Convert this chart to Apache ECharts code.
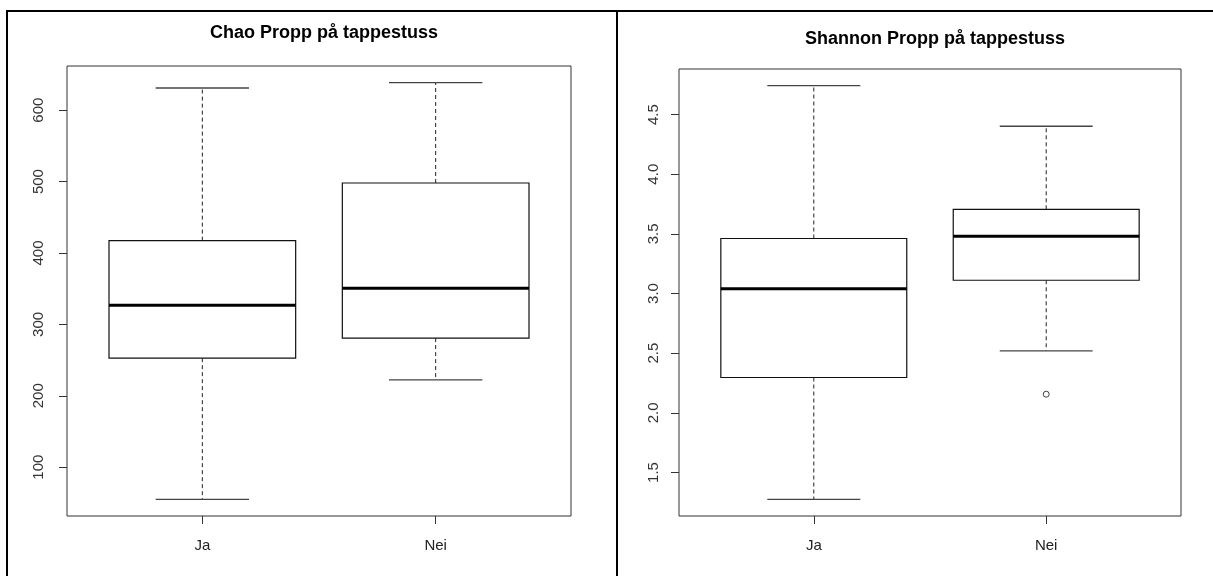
<!DOCTYPE html>
<html>
<head>
<meta charset="utf-8">
<script src="https://cdn.jsdelivr.net/npm/echarts@6/dist/echarts.min.js"></script>
<style>
  html, body { margin: 0; padding: 0; background: #fff; }
  #chart { width: 1213px; height: 576px; }
</style>
</head>
<body>
<div id="chart"></div>
<script>
// ---- data ----
const categories = ['Ja', 'Nei'];
// [lower whisker, Q1, median, Q3, upper whisker]
const chaoJa = [55, 252.7, 326.7, 417.3, 631];
const chaoNei = [222.2, 280.8, 350.6, 498, 638.5];
const shannonJa = [1.274, 2.296, 3.039, 3.461, 4.743];
const shannonNei = [2.519, 3.111, 3.48, 3.706, 4.402];
// outliers: [category index (1-based), value]
const chaoOutliers = [];
const shannonOutliers = [[2, 2.156]];
const chaoTicks = [100, 200, 300, 400, 500, 600];
const shannonTicks = [1.5, 2.0, 2.5, 3.0, 3.5, 4.0, 4.5];
const titles = ['Chao Propp på tappestuss', 'Shannon Propp på tappestuss'];

// ---- helpers ----
function rRange(stats, outs) {
  let lo = Infinity, hi = -Infinity;
  stats.forEach(s => { lo = Math.min(lo, s[0]); hi = Math.max(hi, s[4]); });
  outs.forEach(o => { lo = Math.min(lo, o[1]); hi = Math.max(hi, o[1]); });
  const pad = (hi - lo) * 0.04;
  return [lo - pad, hi + pad];
}
const BOX_HALF = 0.4, CAP_HALF = 0.2;
const FONT = '"Liberation Sans", Arial, sans-serif';

function renderBox(params, api) {
  const x = api.value(0);
  const lo = api.value(1), q1 = api.value(2), med = api.value(3), q3 = api.value(4), hi = api.value(5);
  const tl = api.coord([x - BOX_HALF, q3]);
  const br = api.coord([x + BOX_HALF, q1]);
  const mL = api.coord([x - BOX_HALF, med]);
  const mR = api.coord([x + BOX_HALF, med]);
  const pHi = api.coord([x, hi]);
  const pLo = api.coord([x, lo]);
  const pQ3 = api.coord([x, q3]);
  const pQ1 = api.coord([x, q1]);
  const cHiL = api.coord([x - CAP_HALF, hi]), cHiR = api.coord([x + CAP_HALF, hi]);
  const cLoL = api.coord([x - CAP_HALF, lo]), cLoR = api.coord([x + CAP_HALF, lo]);
  const dashStyle = { stroke: '#222', lineWidth: 1, lineDash: [4, 3], fill: null };
  const capStyle = { stroke: '#444', lineWidth: 1.3 };
  return {
    type: 'group',
    children: [
      { type: 'line', shape: { x1: pQ3[0], y1: pQ3[1], x2: pHi[0], y2: pHi[1] }, style: dashStyle },
      { type: 'line', shape: { x1: pQ1[0], y1: pQ1[1], x2: pLo[0], y2: pLo[1] }, style: dashStyle },
      { type: 'line', shape: { x1: cHiL[0], y1: cHiL[1], x2: cHiR[0], y2: cHiR[1] }, style: capStyle },
      { type: 'line', shape: { x1: cLoL[0], y1: cLoL[1], x2: cLoR[0], y2: cLoR[1] }, style: capStyle },
      { type: 'rect', shape: { x: tl[0], y: tl[1], width: br[0] - tl[0], height: br[1] - tl[1] }, style: { fill: '#fff', stroke: '#111', lineWidth: 1.2 } },
      { type: 'line', shape: { x1: mL[0], y1: mL[1], x2: mR[0], y2: mR[1] }, style: { stroke: '#000', lineWidth: 3 } }
    ]
  };
}

const chaoStats = [chaoJa, chaoNei];
const shannonStats = [shannonJa, shannonNei];
const chaoRange = rRange(chaoStats, chaoOutliers);
const shannonRange = rRange(shannonStats, shannonOutliers);
const xRange = [0.5 - 0.08, categories.length + 0.5 + 0.08];
const xTicks = categories.map((c, i) => i + 1);

function xAxis(gridIndex) {
  return {
    type: 'value', gridIndex, min: xRange[0], max: xRange[1],
    splitLine: { show: false },
    axisLine: { show: false },
    axisTick: { show: true, customValues: xTicks, length: 8, lineStyle: { color: '#333', width: 1 } },
    axisLabel: { customValues: xTicks, margin: 22, color: '#222', fontFamily: FONT, fontSize: 15,
      formatter: v => categories[Math.round(v) - 1] || '' }
  };
}
function yAxis(gridIndex, range, ticks, margin, decimals) {
  return {
    type: 'value', gridIndex, min: range[0], max: range[1],
    splitLine: { show: false },
    axisLine: { show: false },
    axisTick: { show: true, customValues: ticks, length: 8, lineStyle: { color: '#333', width: 1 } },
    axisLabel: { customValues: ticks, rotate: 90, margin: margin, color: '#333', fontFamily: FONT, fontSize: 15,
      formatter: v => Number(v).toFixed(decimals) }
  };
}

const option = {
  animation: false,
  backgroundColor: '#fff',
  title: [
    { text: titles[0], left: 319, top: 19, textAlign: 'center',
      textStyle: { fontFamily: FONT, fontSize: 18, fontWeight: 'bold', color: '#000' } },
    { text: titles[1], left: 930, top: 25, textAlign: 'center',
      textStyle: { fontFamily: FONT, fontSize: 18, fontWeight: 'bold', color: '#000' } }
  ],
  grid: [
    { left: 67, top: 66, width: 504, height: 450, show: true, borderColor: '#333', borderWidth: 1, backgroundColor: 'transparent' },
    { left: 679, top: 69, width: 502, height: 447, show: true, borderColor: '#333', borderWidth: 1, backgroundColor: 'transparent' }
  ],
  xAxis: [xAxis(0), xAxis(1)],
  yAxis: [yAxis(0, chaoRange, chaoTicks, 21, 0), yAxis(1, shannonRange, shannonTicks, 18, 1)],
  series: [
    { type: 'custom', xAxisIndex: 0, yAxisIndex: 0, renderItem: renderBox,
      encode: { x: 0, y: [1, 2, 3, 4, 5] },
      data: chaoStats.map((s, i) => [i + 1].concat(s)) },
    { type: 'custom', xAxisIndex: 1, yAxisIndex: 1, renderItem: renderBox,
      encode: { x: 0, y: [1, 2, 3, 4, 5] },
      data: shannonStats.map((s, i) => [i + 1].concat(s)) },
    { type: 'scatter', xAxisIndex: 1, yAxisIndex: 1, data: shannonOutliers,
      symbol: 'circle', symbolSize: 6,
      itemStyle: { color: '#fff', borderColor: '#111', borderWidth: 1 } }
  ],
  graphic: [
    { type: 'line', shape: { x1: 6, y1: 11, x2: 1213, y2: 11 }, style: { stroke: '#000', lineWidth: 2 }, silent: true },
    { type: 'line', shape: { x1: 7, y1: 10, x2: 7, y2: 576 }, style: { stroke: '#000', lineWidth: 2 }, silent: true },
    { type: 'line', shape: { x1: 617, y1: 10, x2: 617, y2: 576 }, style: { stroke: '#000', lineWidth: 2 }, silent: true }
  ]
};

const chart = echarts.init(document.getElementById('chart'), null, { renderer: 'canvas' });
chart.setOption(option);
</script>
</body>
</html>
